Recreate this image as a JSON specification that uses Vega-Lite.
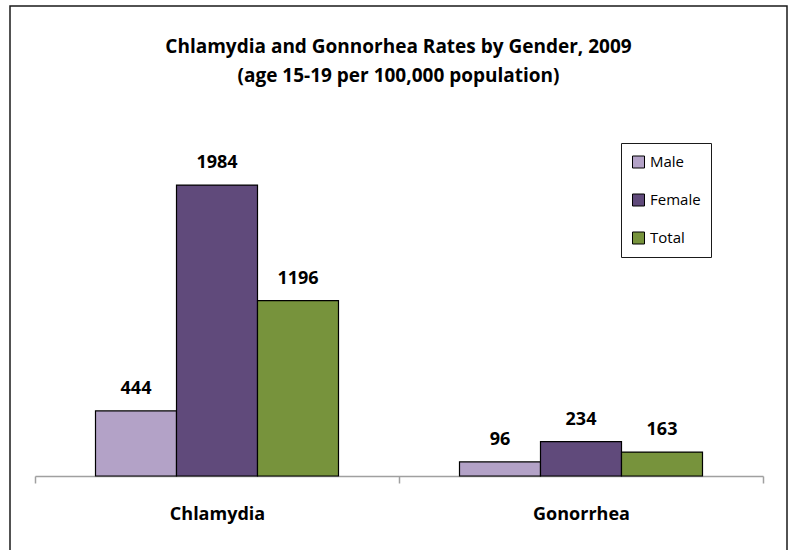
{
  "$schema": "https://vega.github.io/schema/vega-lite/v6.json",
  "width": 777,
  "height": 560,
  "autosize": {"type": "none"},
  "padding": {"left": 10, "top": 6, "right": 4, "bottom": 0},
  "background": "white",
  "title": {
    "text": ["Chlamydia and Gonnorhea Rates by Gender, 2009", "(age 15-19 per 100,000 population)"],
    "font": "Open Sans",
    "fontSize": 19,
    "fontWeight": "bold",
    "color": "#000000",
    "anchor": "middle",
    "lineHeight": 29,
    "baseline": "alphabetic",
    "offset": -95
  },
  "config": {
    "view": {"stroke": "#1a1a1a", "strokeWidth": 1.5},
    "font": "Open Sans"
  },
  "data": {
    "values": [
      {"disease": "Chlamydia", "gender": "Male", "rate": 444},
      {"disease": "Chlamydia", "gender": "Female", "rate": 1984},
      {"disease": "Chlamydia", "gender": "Total", "rate": 1196},
      {"disease": "Gonorrhea", "gender": "Male", "rate": 96},
      {"disease": "Gonorrhea", "gender": "Female", "rate": 234},
      {"disease": "Gonorrhea", "gender": "Total", "rate": 163}
    ]
  },
  "encoding": {
    "x": {
      "field": "disease",
      "type": "nominal",
      "sort": ["Chlamydia", "Gonorrhea"],
      "scale": {"range": [25, 753], "paddingInner": 0, "paddingOuter": 0},
      "axis": {
        "title": null,
        "labelAngle": 0,
        "offset": -90,
        "tickBand": "extent",
        "domainColor": "#a0a0a0",
        "domainWidth": 1.5,
        "tickColor": "#a0a0a0",
        "tickWidth": 1.5,
        "tickSize": 7,
        "labelFont": "Open Sans",
        "labelFontSize": 18,
        "labelFontWeight": "bold",
        "labelColor": "#000000",
        "labelBaseline": "alphabetic",
        "labelPadding": 36,
        "grid": false
      }
    },
    "xOffset": {
      "field": "gender",
      "type": "nominal",
      "sort": ["Male", "Female", "Total"],
      "scale": {"paddingInner": 0, "paddingOuter": 0.747}
    },
    "y": {
      "field": "rate",
      "type": "quantitative",
      "scale": {"domain": [0, 2000], "range": [470, 176.7], "nice": false},
      "axis": null
    }
  },
  "layer": [
    {
      "mark": {"type": "bar", "stroke": "#000000", "strokeWidth": 1.2},
      "encoding": {
        "color": {
          "field": "gender",
          "type": "nominal",
          "sort": ["Male", "Female", "Total"],
          "scale": {"domain": ["Male", "Female", "Total"], "range": ["#B3A2C7", "#604A7B", "#77933C"]},
          "legend": {
            "title": null,
            "orient": "none",
            "legendX": 611,
            "legendY": 137,
            "symbolType": "square",
            "symbolSize": 144,
            "symbolStrokeColor": "#000000",
            "symbolStrokeWidth": 1,
            "symbolOpacity": 1,
            "labelFont": "Open Sans",
            "labelFontSize": 15,
            "labelColor": "#000000",
            "labelOffset": 4,
            "strokeColor": "#1a1a1a",
            "fillColor": "#ffffff",
            "padding": 10,
            "clipHeight": 18,
            "rowPadding": 20
          }
        }
      }
    },
    {
      "mark": {"type": "text", "baseline": "alphabetic", "dy": -17, "font": "Open Sans", "fontSize": 18, "fontWeight": "bold", "color": "#000000"},
      "encoding": {
        "text": {"field": "rate", "type": "quantitative"}
      }
    }
  ]
}
